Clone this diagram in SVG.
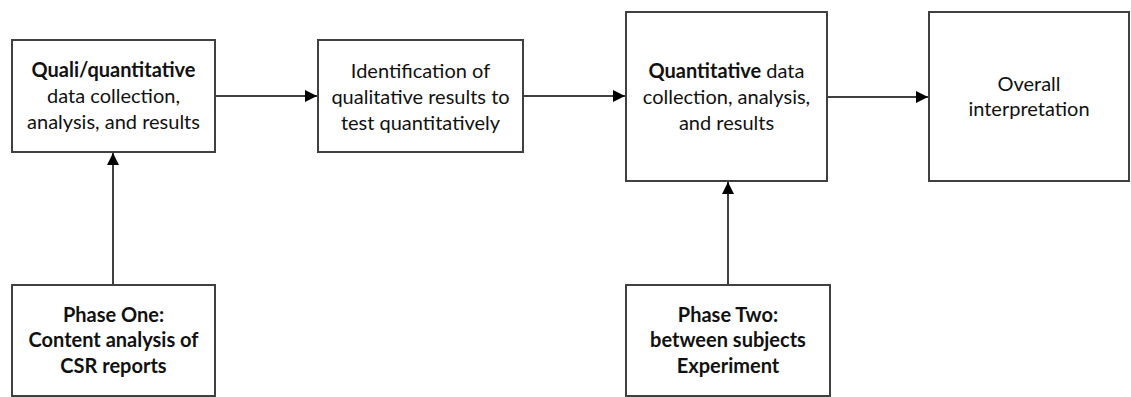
<svg xmlns="http://www.w3.org/2000/svg" width="1131" height="397" viewBox="0 0 1131 397">
<defs>
<style>
.box{fill:#fff;stroke:#404040;stroke-width:2}
.t{font-family:Lato,"Open Sans",sans-serif;font-size:20px;fill:#111;text-anchor:middle}
.b{font-weight:bold}
.c{stroke:#000;stroke-width:1.5;fill:none;marker-end:url(#ah)}
</style>
<marker id="ah" markerWidth="12" markerHeight="12" refX="12" refY="6" orient="auto" markerUnits="userSpaceOnUse" viewBox="0 0 12 12">
<path d="M0,0 L12,6 L0,12 z" fill="#000"/>
</marker>
</defs>
<rect width="1131" height="397" fill="#fff"/>
<g id="connectors">
<line class="c" x1="215" y1="96" x2="317" y2="96"/>
<line class="c" x1="523" y1="96" x2="625" y2="96"/>
<line class="c" x1="827" y1="97" x2="928" y2="97"/>
<line class="c" x1="113" y1="285" x2="113" y2="153"/>
<line class="c" x1="728" y1="285" x2="728" y2="182"/>
</g>
<g id="n1">
<rect class="box" x="12" y="40" width="203" height="112"/>
<text class="t" x="113.5" y="77"><tspan class="b">Quali/quantitative</tspan><tspan x="113.5" y="103">data collection,</tspan><tspan x="113.5" y="129">analysis, and results</tspan></text>
</g>
<g id="n2">
<rect class="box" x="318" y="40" width="205" height="112"/>
<text class="t" x="420.5" y="78">Identification of<tspan x="420.5" y="104">qualitative results to</tspan><tspan x="420.5" y="130">test quantitatively</tspan></text>
</g>
<g id="n3">
<rect class="box" x="626" y="12" width="201" height="169"/>
<text class="t" x="726.5" y="78"><tspan class="b">Quantitative</tspan> data<tspan x="726.5" y="104">collection, analysis,</tspan><tspan x="726.5" y="130">and results</tspan></text>
</g>
<g id="n4">
<rect class="box" x="929" y="12" width="200" height="169"/>
<text class="t" x="1029" y="91">Overall<tspan x="1029" y="116">interpretation</tspan></text>
</g>
<g id="n5">
<rect class="box" x="12" y="285" width="203" height="111"/>
<text class="t b" x="113.5" y="322">Phase One:<tspan x="113.5" y="347">Content analysis of</tspan><tspan x="113.5" y="373">CSR reports</tspan></text>
</g>
<g id="n6">
<rect class="box" x="626" y="285" width="204" height="111"/>
<text class="t b" x="728" y="322">Phase Two:<tspan x="728" y="347">between subjects</tspan><tspan x="728" y="373">Experiment</tspan></text>
</g>
</svg>
